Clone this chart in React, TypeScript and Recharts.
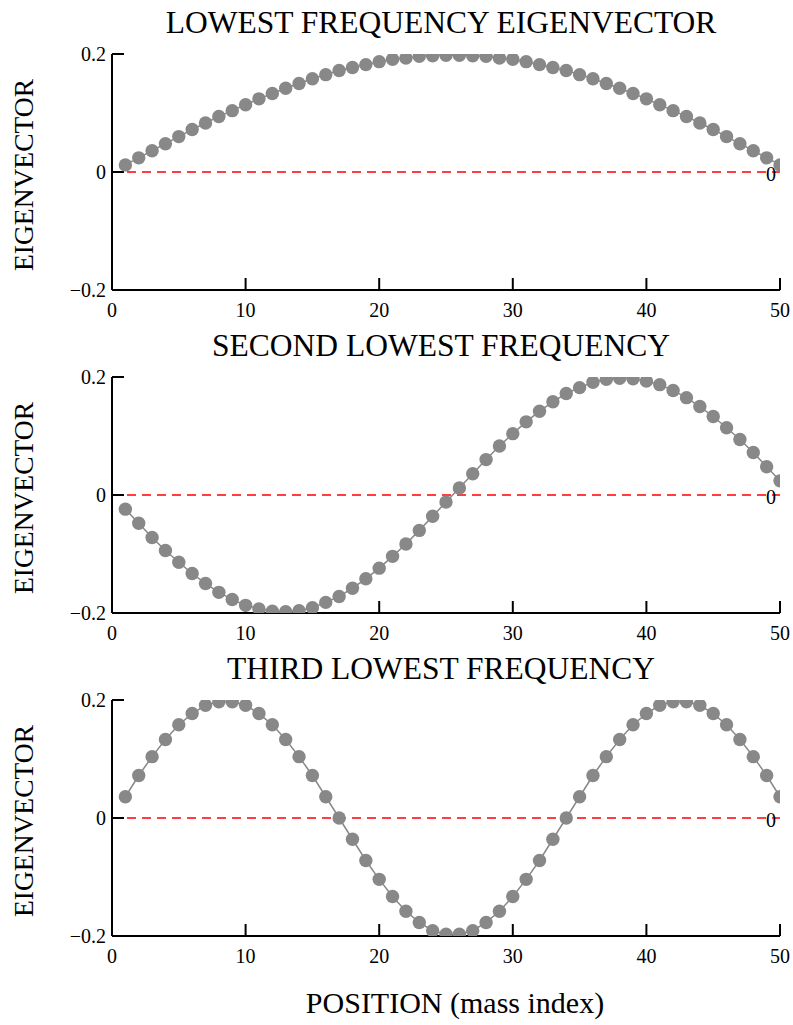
import { LineChart, Line, XAxis, YAxis, ReferenceLine } from 'recharts';

const FONT = "'Liberation Serif', 'Times New Roman', Times, serif";

const positions = [
  1, 2, 3, 4, 5, 6, 7, 8, 9, 10, 11, 12, 13, 14, 15, 16, 17, 18, 19, 20, 21, 22, 23, 24, 25,
  26, 27, 28, 29, 30, 31, 32, 33, 34, 35, 36, 37, 38, 39, 40, 41, 42, 43, 44, 45, 46, 47, 48, 49, 50,
];

const lowest = [
  0.012, 0.024, 0.036, 0.048, 0.06, 0.072, 0.083, 0.094, 0.104, 0.114, 0.124, 0.133, 0.142, 0.15, 0.158,
  0.165, 0.172, 0.177, 0.182, 0.187, 0.191, 0.193, 0.196, 0.197, 0.198, 0.198, 0.197, 0.196, 0.193, 0.191,
  0.187, 0.182, 0.177, 0.172, 0.165, 0.158, 0.15, 0.142, 0.133, 0.124, 0.114, 0.104, 0.094, 0.083, 0.072,
  0.06, 0.048, 0.036, 0.024, 0.012,
];

const second = [
  -0.024, -0.048, -0.072, -0.094, -0.114, -0.133, -0.15, -0.165, -0.177, -0.187, -0.193, -0.197, -0.198,
  -0.196, -0.191, -0.182, -0.172, -0.158, -0.142, -0.124, -0.104, -0.083, -0.06, -0.036, -0.012, 0.012,
  0.036, 0.06, 0.083, 0.104, 0.124, 0.142, 0.158, 0.172, 0.182, 0.191, 0.196, 0.198, 0.197, 0.193, 0.187,
  0.177, 0.165, 0.15, 0.133, 0.114, 0.094, 0.072, 0.048, 0.024,
];

const third = [
  0.036, 0.072, 0.104, 0.133, 0.158, 0.177, 0.191, 0.197, 0.197, 0.191, 0.177, 0.158, 0.133, 0.104, 0.072,
  0.036, 0, -0.036, -0.072, -0.104, -0.133, -0.158, -0.177, -0.191, -0.197, -0.197, -0.191, -0.177, -0.158,
  -0.133, -0.104, -0.072, -0.036, 0, 0.036, 0.072, 0.104, 0.133, 0.158, 0.177, 0.191, 0.197, 0.197, 0.191,
  0.177, 0.158, 0.133, 0.104, 0.072, 0.036,
];

const titles = ['LOWEST FREQUENCY EIGENVECTOR', 'SECOND LOWEST FREQUENCY', 'THIRD LOWEST FREQUENCY'];
const xTicks = [0, 10, 20, 30, 40, 50];
const yTicks = [-0.2, 0, 0.2];
const yTickLabels = ['\u22120.2', '0', '0.2'];

const panelTops = [54, 377, 700];
const PLOT_H = 236;

const axisLine = { stroke: '#000', strokeWidth: 2 };
const textStyle = { fontFamily: FONT, fontSize: 20 };

function XTick(props: any) {
  const { x, y, payload } = props;
  return (
    <text x={x} y={y} dy="0.71em" textAnchor="middle" fontSize={20} fontFamily={FONT} style={textStyle} fill="#000">
      {payload.value}
    </text>
  );
}

function YTick(props: any) {
  const { x, y, payload } = props;
  const label = yTickLabels[yTicks.indexOf(payload.value)] ?? String(payload.value);
  return (
    <text x={x} y={y} dy="0.355em" textAnchor="end" fontSize={20} fontFamily={FONT} style={textStyle} fill="#000">
      {label}
    </text>
  );
}

function ZeroLabel(props: any) {
  const vb = props.viewBox || {};
  return (
    <text x={vb.x + vb.width - 9} y={vb.y + 9} textAnchor="middle" fontSize={20} fontFamily={FONT} style={textStyle} fill="#000">
      0
    </text>
  );
}

function Panel({ values, top }: { values: number[]; top: number }) {
  const rows = positions.map((p, i) => ({ pos: p, v: values[i] }));
  return (
    <div style={{ position: 'absolute', left: 0, top: top - 10, ...textStyle }}>
      <LineChart width={793} height={290} data={rows} margin={{ top: 10, right: 13, bottom: 0, left: 0 }} style={textStyle}>
        <XAxis
          xAxisId="b"
          dataKey="pos"
          type="number"
          domain={[0, 50]}
          ticks={xTicks}
          interval={0}
          allowDataOverflow
          height={44}
          tickSize={-12}
          tickMargin={25}
          axisLine={axisLine}
          tickLine={axisLine}
          tick={<XTick />}
        />
        <XAxis
          xAxisId="t"
          orientation="top"
          dataKey="pos"
          type="number"
          domain={[0, 50]}
          ticks={xTicks}
          interval={0}
          height={0}
          tickSize={-12}
          tickFormatter={() => ''}
          axisLine={axisLine}
          tickLine={axisLine}
        />
        <YAxis
          yAxisId="l"
          type="number"
          domain={[-0.2, 0.2]}
          ticks={yTicks}
          interval={0}
          allowDataOverflow
          width={112}
          tickSize={-12}
          tickMargin={18}
          axisLine={axisLine}
          tickLine={axisLine}
          tick={<YTick />}
        />
        <YAxis
          yAxisId="r"
          orientation="right"
          type="number"
          domain={[-0.2, 0.2]}
          ticks={yTicks}
          interval={0}
          width={0}
          tickSize={-12}
          tickFormatter={() => ''}
          axisLine={axisLine}
          tickLine={axisLine}
        />
        <ReferenceLine
          xAxisId="b"
          yAxisId="l"
          y={0}
          stroke="#ff0000"
          strokeWidth={1.5}
          strokeDasharray="9 6"
          label={<ZeroLabel />}
        />
        <Line
          xAxisId="b"
          yAxisId="l"
          dataKey="v"
          type="linear"
          stroke="#888888"
          strokeWidth={1.5}
          dot={{ r: 6.7, fill: '#888888', stroke: 'none' }}
          activeDot={false}
          isAnimationActive={false}
        />
      </LineChart>
    </div>
  );
}

export default function App() {
  const series = [lowest, second, third];
  return (
    <div style={{ position: 'absolute', left: 0, top: 0, width: 793, height: 1025, background: '#fff' }}>
      {series.map((s, i) => (
        <Panel key={i} values={s} top={panelTops[i]} />
      ))}
      <svg width={793} height={1025} style={{ position: 'absolute', left: 0, top: 0, pointerEvents: 'none' }}>
        {titles.map((t, i) => (
          <text key={t} x={441} y={panelTops[i] - 21} textAnchor="middle" fontSize={31.5} fontFamily={FONT} fill="#000">
            {t}
          </text>
        ))}
        {panelTops.map((pt, i) => (
          <text
            key={i}
            transform={`translate(33, ${pt + PLOT_H / 2 + 3}) rotate(-90)`}
            textAnchor="middle"
            fontSize={27.5}
            fontFamily={FONT}
            fill="#000"
          >
            EIGENVECTOR
          </text>
        ))}
        <text x={455} y={1013} textAnchor="middle" fontSize={30} fontFamily={FONT} fill="#000">
          POSITION (mass index)
        </text>
      </svg>
    </div>
  );
}
